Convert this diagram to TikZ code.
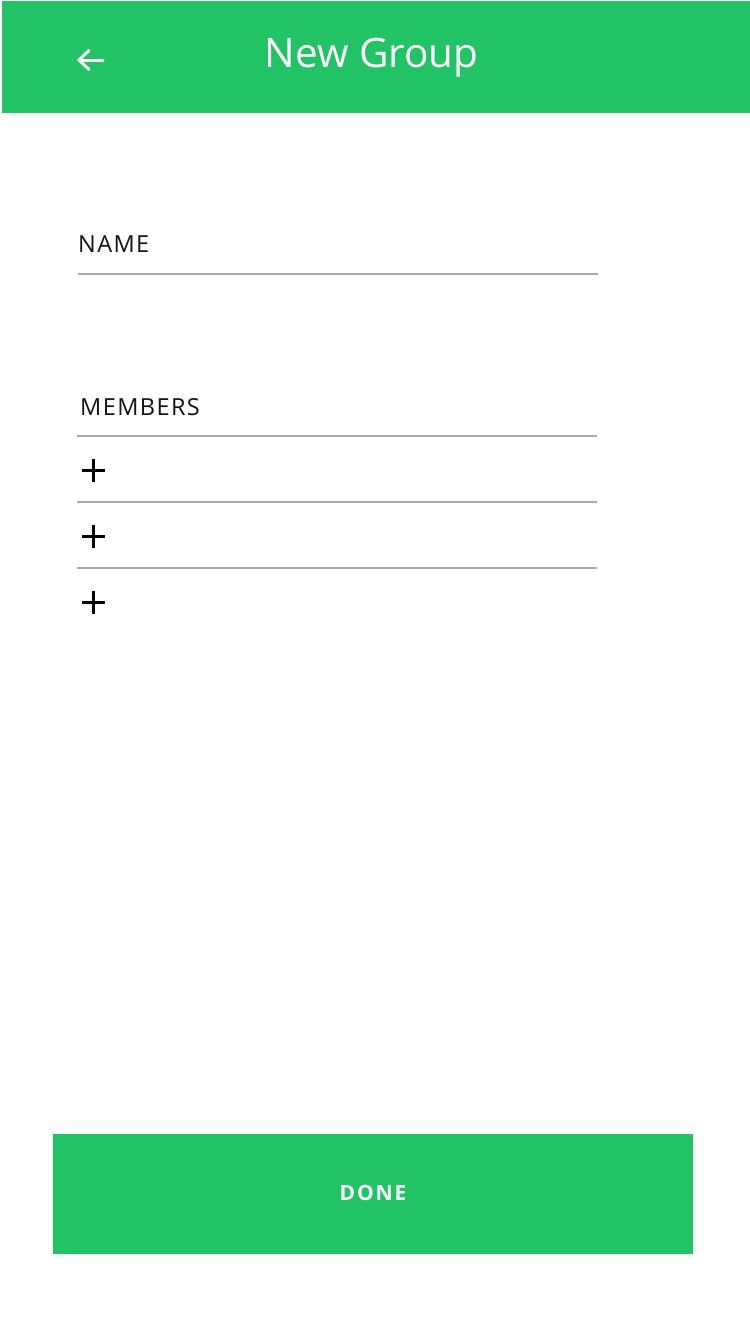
\documentclass[tikz,border=0pt]{standalone}
\usepackage{fontspec}
\setmainfont{Open Sans}
\newfontfamily\spacedfont[LetterSpace=6]{Open Sans}
\newfontfamily\donefont[LetterSpace=9]{Open Sans Bold}
\definecolor{appgreen}{HTML}{22C365}
\definecolor{rulegray}{HTML}{AAAAAA}
\tikzset{
  x=1pt, y=-1pt,
  label text/.style={inner sep=0pt, anchor=base west, text=black!92, font=\spacedfont\fontsize{23.5}{28}\selectfont},
  rule line/.style={draw=rulegray, line width=1.2pt},
  plus mark/.style={draw=black, line width=3pt},
  arrow mark/.style={draw=white, line width=3pt, line cap=round, line join=round},
}
\begin{document}
\begin{tikzpicture}
\useasboundingbox (0,0) rectangle (750,1334);
\fill[white] (0,0) rectangle (750,1334);
% header
\fill[appgreen] (2,1) rectangle (750,113);
\coordinate (arrowtip) at (79,60);
\coordinate (arrowend) at (103,60);
\coordinate (arrowup) at (89,50.5);
\coordinate (arrowdown) at (89,69.5);
\draw[arrow mark] (arrowend) -- (arrowtip);
\draw[arrow mark] (arrowup) -- (arrowtip) -- (arrowdown);
\node[inner sep=0pt, anchor=base, text=white, font=\fontsize{40.5}{48}\selectfont] (title) at (371.5,67) {New Group};
% name
\node[label text] (name) at (78,252.5) {NAME};
\coordinate (nameL) at (78,274);
\coordinate (nameR) at (598,274);
\draw[rule line] (nameL) -- (nameR);
% members
\node[label text] (members) at (80,415) {MEMBERS};
\foreach \y/\n in {436/a,502/b,568/c}{
  \coordinate (l\n) at (77,\y);
  \coordinate (r\n) at (597,\y);
  \draw[rule line] (l\n) -- (r\n);
}
\foreach \y/\n in {470/a,536/b,602/c}{
  \coordinate (p\n) at (93.5,\y);
  \draw[plus mark] ([xshift=-11.5pt]p\n) -- ([xshift=11.5pt]p\n);
  \draw[plus mark] ([yshift=-11.5pt]p\n) -- ([yshift=11.5pt]p\n);
}
% done button
\node[fill=appgreen, minimum width=640pt, minimum height=120pt, inner sep=0pt, anchor=north west] (donebtn) at (53,1134) {};
\node[inner sep=0pt, anchor=base, text=white, font=\donefont\fontsize{21}{25}\selectfont] (done) at (373,1200) {DONE};
\end{tikzpicture}
\end{document}
